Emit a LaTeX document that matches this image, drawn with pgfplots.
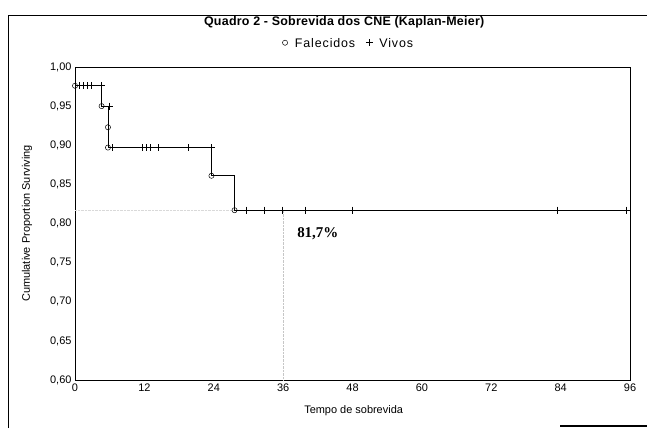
\documentclass[border=0pt]{standalone}
\usepackage{pgfplots}
\pgfplotsset{compat=1.18}
\usepackage{fontspec}
\setmainfont{Liberation Sans}
\newfontfamily\serifb{Liberation Serif}
\newfontfamily\titlefont[LetterSpace=2]{Liberation Sans}
\newfontfamily\legfont[LetterSpace=7]{Liberation Sans}
\begin{document}
\begin{tikzpicture}[x=1bp,y=1bp]
\useasboundingbox (0,0) rectangle (647,428);
\draw[line width=0.9bp] (8,0) -- (8,413) -- (647,413);
\draw[line width=1.2bp] (560,2) -- (647,2);
\begin{axis}[
  at={(75bp,48bp)}, anchor=south west,
  scale only axis, width=555bp, height=313bp,
  xmin=0, xmax=96, ymin=0.6, ymax=1.0,
  xtick={0,12,24,36,48,60,72,84,96},
  ytick={0.60,0.65,0.70,0.75,0.80,0.85,0.90,0.95,1.00},
  major tick length=0pt,
  axis line style={line width=0.9bp},
  /pgf/number format/assume math mode=true,
  tick label style={font=\fontsize{11}{13}\selectfont},
  yticklabel style={/pgf/number format/.cd, fixed, fixed zerofill, precision=2, use comma},
  xlabel={Tempo de sobrevida},
  ylabel={Cumulative Proportion Surviving},
  label style={font=\fontsize{11}{13}\selectfont},
  xlabel style={at={(axis description cs:0.502,-0.099)}, anchor=center},
  ylabel style={at={(axis description cs:-0.0865,0.5)}, anchor=center, rotate=0},
  title={\titlefont\bfseries Quadro 2 - Sobrevida dos CNE (Kaplan-Meier)},
  title style={at={(axis description cs:0.485,1.125)}, anchor=center, font=\fontsize{12.5}{14}\selectfont},
  legend style={draw=none, fill=none, at={(axis description cs:0.49,1.073)}, anchor=center,
    font=\legfont\fontsize{12.5}{14}\selectfont, /tikz/every even column/.append style={column sep=6bp}},
  legend image code/.code={\path[draw=none, fill=none] (0cm,0cm) -- (0.5cm,0cm);
    \draw[mark repeat=2, mark phase=2, #1] plot coordinates {(0cm,0.05cm) (0.22cm,0.05cm) (0.44cm,0.05cm)};},
  legend columns=2,
  clip=false,
]
\addplot[gray!45, densely dotted, forget plot] coordinates {(36,0.6) (36,0.817)};
\addplot[gray!30, densely dotted, forget plot] coordinates {(0,0.817) (27.6,0.817)};
\addplot[black, line width=0.6bp, forget plot] coordinates {
 (0,0.976) (4.6,0.976) (4.6,0.950) (5.7,0.950) (5.7,0.897) (23.6,0.897)
 (23.6,0.861) (27.6,0.861) (27.6,0.817) (96,0.817)};
\addplot[only marks, mark=o, mark size=2.6pt, mark options={black, fill=white, line width=0.5bp}] coordinates {
 (0,0.976) (4.6,0.950) (5.7,0.923) (5.7,0.897) (23.6,0.861) (27.6,0.817)};
\addlegendentry{Falecidos}
\addplot[only marks, mark=+, mark size=3.6pt, mark options={black, line width=0.6bp}] coordinates {
 (0.7,0.976) (1.4,0.976) (2.1,0.976) (2.8,0.976) (4.6,0.976)
 (5.9,0.950)
 (6.4,0.897) (11.7,0.897) (12.3,0.897) (13.1,0.897) (14.4,0.897) (19.6,0.897) (23.6,0.897)
 (29.7,0.817) (32.7,0.817) (35.8,0.817) (39.8,0.817) (47.9,0.817) (83.5,0.817) (95.4,0.817)};
\addlegendentry{Vivos}
\node[font=\serifb\bfseries\fontsize{15}{17}\selectfont] at (axis cs:42,0.787) {81,7\%};
\end{axis}
\end{tikzpicture}
\end{document}
